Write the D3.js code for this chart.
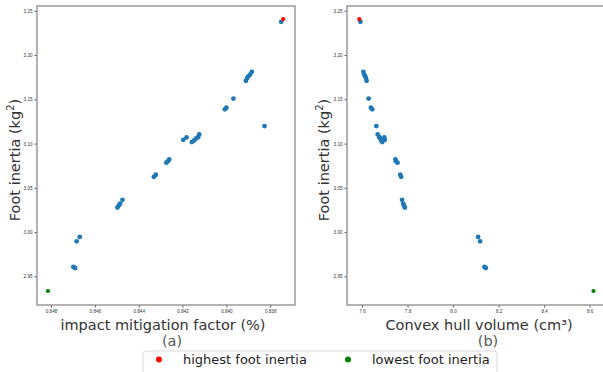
<!DOCTYPE html>
<html>
<head>
<meta charset="utf-8">
<script src="https://cdn.jsdelivr.net/npm/d3@7"></script>
<style>
  body { margin: 0; background: #fff; }
  svg { display: block; font-family: "DejaVu Sans", sans-serif; }
  .tick text { fill: #333; }
  .tick line { stroke: #555; }
  .domain { display: none; }
</style>
</head>
<body>
<svg></svg>
<script>
const width = 603
const height = 372

// blue designs: foot inertia, impact mitigation factor, convex hull volume
const inertia = [3.2375, 3.181, 3.178, 3.176, 3.174, 3.171, 3.1508, 3.1406, 3.1387, 3.1198,
                 3.1104, 3.1073, 3.1070, 3.1058, 3.1043, 3.1036, 3.1017,
                 3.0821, 3.0800, 3.0784, 3.0648, 3.0625, 3.0365, 3.0323, 3.0304, 3.0278,
                 2.9946, 2.9896, 2.9606, 2.9595]
const mitigation = [0.83750, 0.83884, 0.83892, 0.83900, 0.83905, 0.83911, 0.83968, 0.84000, 0.84007, 0.83826,
                    0.84124, 0.84129, 0.84182, 0.84138, 0.84197, 0.84147, 0.84158,
                    0.84261, 0.84267, 0.84274, 0.84322, 0.84331, 0.84474, 0.84485, 0.84490, 0.84497,
                    0.84669, 0.84683, 0.84698, 0.84690]
const volume = [7.593, 7.606, 7.610, 7.614, 7.617, 7.620, 7.629, 7.639, 7.645, 7.663,
                7.669, 7.676, 7.698, 7.680, 7.700, 7.684, 7.689,
                7.747, 7.749, 7.756, 7.768, 7.772, 7.776, 7.781, 7.784, 7.788,
                8.110, 8.119, 8.138, 8.144]

// highlighted designs
const highest = { inertia: 3.2406, mitigation: 0.83741, volume: 7.588 }
const lowest = { inertia: 2.9335, mitigation: 0.84814, volume: 8.617 }

const yTicks = [2.95, 3.00, 3.05, 3.10, 3.15, 3.20, 3.25]
const xTicksA = [0.848, 0.846, 0.844, 0.842, 0.840, 0.838]
const xTicksB = [7.6, 7.8, 8.0, 8.2, 8.4, 8.6]

const legendLabels = ['highest foot inertia', 'lowest foot inertia']
const legendColors = ['red', 'green']

let svg = d3.select('svg').attr('width', width).attr('height', height)

let yScale = d3.scaleLinear().domain([2.9177, 3.2554]).range([305, 6])

function drawPanel(opts) {
    let x = opts.xScale
    let [x0, x1] = x.range()
    let g = svg.append('g')

    g.append('g')
        .attr('transform', 'translate(0,305)')
        .call(d3.axisBottom(x).tickValues(opts.xTicks).tickFormat(opts.xFormat).tickSize(2.5).tickPadding(2))
        .call(a => a.selectAll('text').attr('font-size', 4.6))

    g.append('g')
        .attr('transform', 'translate(' + x0 + ',0)')
        .call(d3.axisLeft(yScale).tickValues(yTicks).tickFormat(d3.format('.2f')).tickSize(2.5).tickPadding(2))
        .call(a => a.selectAll('text').attr('font-size', 4.6))

    g.append('rect')
        .attr('x', x0).attr('y', 6)
        .attr('width', x1 - x0).attr('height', 299)
        .attr('fill', 'none').attr('stroke', '#8a8a8a').attr('stroke-width', 1.3)

    g.selectAll('circle.pt')
        .data(inertia)
        .enter()
        .append('circle')
        .attr('class', 'pt')
        .attr('cx', (d, i) => x(opts.xs[i]))
        .attr('cy', d => yScale(d))
        .attr('r', 2.4)
        .attr('fill', '#1f77b4')

    g.append('circle')
        .attr('cx', x(opts.hi)).attr('cy', yScale(highest.inertia))
        .attr('r', 2.1).attr('fill', 'red')
    g.append('circle')
        .attr('cx', x(opts.lo)).attr('cy', yScale(lowest.inertia))
        .attr('r', 2.1).attr('fill', 'green')

    // y label
    let yl = g.append('text')
        .attr('transform', 'translate(' + opts.ylabelX + ',160) rotate(-90)')
        .attr('text-anchor', 'middle')
        .attr('font-size', 14.5)
        .attr('fill', '#333')
    yl.append('tspan').text('Foot inertia (kg')
    yl.append('tspan').attr('font-size', 10).attr('dy', -6).text('2')
    yl.append('tspan').attr('dy', 6).text(')')

    g.append('text')
        .attr('x', opts.labelX).attr('y', 330)
        .attr('text-anchor', 'middle')
        .attr('font-size', 14.5)
        .attr('fill', '#333')
        .text(opts.xlabel)

    g.append('text')
        .attr('x', opts.tagX).attr('y', 346)
        .attr('text-anchor', 'middle')
        .attr('font-size', 14.5)
        .attr('fill', '#555')
        .text(opts.tag)
}

drawPanel({
    xScale: d3.scaleLinear().domain([0.84864, 0.83687]).range([37, 295]),
    xs: mitigation,
    hi: highest.mitigation,
    lo: lowest.mitigation,
    xTicks: xTicksA,
    xFormat: d3.format('.3f'),
    xlabel: 'impact mitigation factor (%)',
    labelX: 163,
    tag: '(a)',
    tagX: 172,
    ylabelX: 20
})

drawPanel({
    xScale: d3.scaleLinear().domain([7.534, 8.672]).range([347, 606]),
    xs: volume,
    hi: highest.volume,
    lo: lowest.volume,
    xTicks: xTicksB,
    xFormat: d3.format('.1f'),
    xlabel: 'Convex hull volume (cm³)',
    labelX: 479,
    tag: '(b)',
    tagX: 488,
    ylabelX: 329
})

// legend
let legend = svg.append('g')
legend.append('rect')
    .attr('x', 143).attr('y', 351)
    .attr('width', 354).attr('height', 30)
    .attr('rx', 3)
    .attr('fill', 'white').attr('stroke', '#d8d8d8').attr('stroke-width', 1)

let legendX = [159, 348]
legendLabels.forEach((label, i) => {
    legend.append('circle')
        .attr('cx', legendX[i]).attr('cy', 359.5)
        .attr('r', 3).attr('fill', legendColors[i])
    legend.append('text')
        .attr('x', legendX[i] + 24).attr('y', 364)
        .attr('font-size', 13)
        .attr('fill', '#222')
        .text(label)
})
</script>
</body>
</html>
